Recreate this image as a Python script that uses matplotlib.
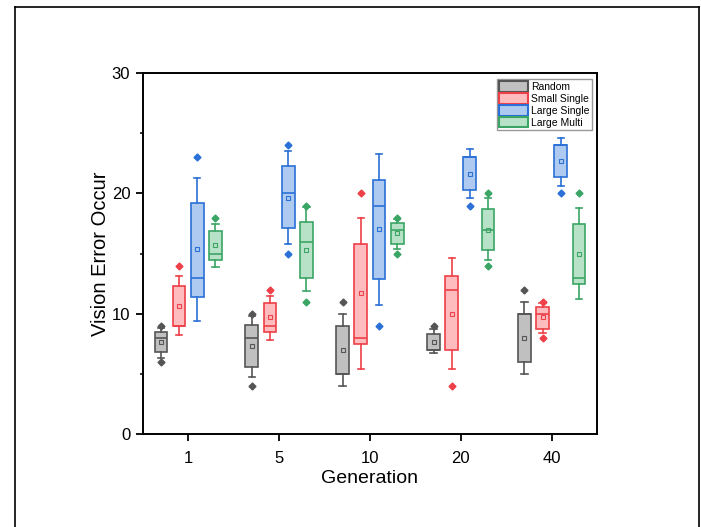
import numpy as np
import matplotlib
matplotlib.use("Agg")
import matplotlib.pyplot as plt
from matplotlib.patches import Patch
from matplotlib.lines import Line2D

plt.rcParams['font.family'] = ['Liberation Sans', 'DejaVu Sans']

# ---- data ----
generations = ['1', '5', '10', '20', '40']
series = ['Random', 'Small Single', 'Large Single', 'Large Multi']

random_q1 = [6.8, 5.6, 5.0, 7.0, 6.0]
random_med = [8.0, 8.0, 5.0, 7.0, 10.0]
random_q3 = [8.5, 9.1, 9.0, 8.35, 10.0]
random_lo = [6.35, 4.75, 4.0, 6.7, 5.0]
random_hi = [8.85, 9.8, 10.0, 8.7, 11.0]
random_mean = [7.65, 7.35, 7.0, 7.65, 8.0]
random_out = [[6, 9], [4, 10], [11], [9], [12]]

small_q1 = [9.0, 8.5, 7.5, 7.0, 8.75]
small_med = [9.0, 9.0, 8.0, 12.0, 10.0]
small_q3 = [12.3, 10.9, 15.8, 13.1, 10.55]
small_lo = [8.2, 7.85, 5.4, 5.4, 8.4]
small_hi = [13.1, 11.45, 17.95, 14.6, 10.9]
small_mean = [10.65, 9.7, 11.7, 10.0, 9.7]
small_out = [[14], [12], [20], [4], [8, 11]]

large_q1 = [11.4, 17.1, 12.85, 20.3, 21.35]
large_med = [13.0, 20.0, 19.0, 23.0, 24.0]
large_q3 = [19.2, 22.3, 21.15, 23.0, 24.0]
large_lo = [9.4, 15.8, 10.75, 19.65, 20.65]
large_hi = [21.25, 23.55, 23.25, 23.7, 24.65]
large_mean = [15.35, 19.65, 17.05, 21.65, 22.7]
large_out = [[23], [15, 24], [9], [19], [20]]

multi_q1 = [14.5, 13.0, 15.8, 15.3, 12.5]
multi_med = [15.0, 16.0, 17.0, 17.0, 13.0]
multi_q3 = [16.85, 17.65, 17.55, 18.75, 17.5]
multi_lo = [13.85, 11.85, 15.35, 14.45, 11.25]
multi_hi = [17.45, 18.9, 17.9, 19.6, 18.8]
multi_mean = [15.7, 15.3, 16.7, 17.0, 15.0]
multi_out = [[18], [11, 19], [15, 18], [14, 20], [20]]

all_data = [
    (random_q1, random_med, random_q3, random_lo, random_hi, random_mean, random_out),
    (small_q1, small_med, small_q3, small_lo, small_hi, small_mean, small_out),
    (large_q1, large_med, large_q3, large_lo, large_hi, large_mean, large_out),
    (multi_q1, multi_med, multi_q3, multi_lo, multi_hi, multi_mean, multi_out),
]

faces = ['#c0c0c0', '#ffbcbf', '#aecaf0', '#b8e2c8']
edges = ['#555555', '#ee4048', '#2a70d6', '#3aa564']
offsets = [-0.3, -0.1, 0.1, 0.3]
width = 0.14

fig = plt.figure(figsize=(7.01, 5.27), dpi=100)
ax = fig.add_axes([0.2037, 0.1765, 0.648, 0.6845])

x = np.arange(len(generations))
for k, (q1, med, q3, lo, hi, mean, out) in enumerate(all_data):
    stats = []
    for i in range(len(generations)):
        stats.append(dict(q1=q1[i], med=med[i], q3=q3[i], whislo=lo[i], whishi=hi[i],
                          mean=mean[i], fliers=out[i]))
    c = edges[k]
    ax.bxp(stats, positions=x + offsets[k], widths=width, patch_artist=True,
           showmeans=True, manage_ticks=False,
           boxprops=dict(facecolor=faces[k], edgecolor=c, linewidth=1.2),
           medianprops=dict(color=c, linewidth=1.2),
           whiskerprops=dict(color=c, linewidth=1.2),
           capprops=dict(color=c, linewidth=1.2),
           meanprops=dict(marker='s', markerfacecolor='none', markeredgecolor=c,
                          markersize=3.5, markeredgewidth=0.8),
           flierprops=dict(marker='D', markerfacecolor=c, markeredgecolor=c,
                           markersize=3.5))

ax.set_xlim(-0.5, len(generations) - 0.5)
ax.set_ylim(0, 30)
ax.set_xticks(x)
ax.set_xticklabels(generations)
ax.set_yticks([0, 10, 20, 30])
ax.set_yticks([5, 15, 25], minor=True)
ax.tick_params(axis='x', direction='out', length=5, width=1.3, pad=7, labelsize=12)
ax.tick_params(axis='y', which='major', direction='out', length=5, width=1.3, pad=4, labelsize=12)
ax.tick_params(axis='y', which='minor', direction='out', length=2.5, width=1.1)
for s in ax.spines.values():
    s.set_linewidth(1.4)

ax.set_xlabel('Generation', fontsize=14, labelpad=3)
ax.set_ylabel('Vision Error Occur', fontsize=14.5, labelpad=1)

handles = [Patch(facecolor=faces[k], edgecolor=edges[k], linewidth=1.5, label=series[k])
           for k in range(len(series))]
leg = ax.legend(handles=handles, loc='upper right', bbox_to_anchor=(0.988, 0.984),
                borderaxespad=0, fontsize=7.5, handlelength=2.8, handleheight=1.2,
                labelspacing=0.1, handletextpad=0.3, borderpad=0.2, fancybox=False,
                framealpha=1)
leg.get_frame().set_edgecolor('#999999')
leg.get_frame().set_linewidth(1.0)

# outer frame around the figure
fig.add_artist(Line2D([0.0214, 0.0214], [0.0, 0.9867], color='black', linewidth=1.2))
fig.add_artist(Line2D([0.0214, 0.997], [0.9867, 0.9867], color='black', linewidth=1.2))
fig.add_artist(Line2D([0.997, 0.997], [0.0, 0.9867], color='black', linewidth=1.2))

fig.savefig('out.png', dpi=100)
